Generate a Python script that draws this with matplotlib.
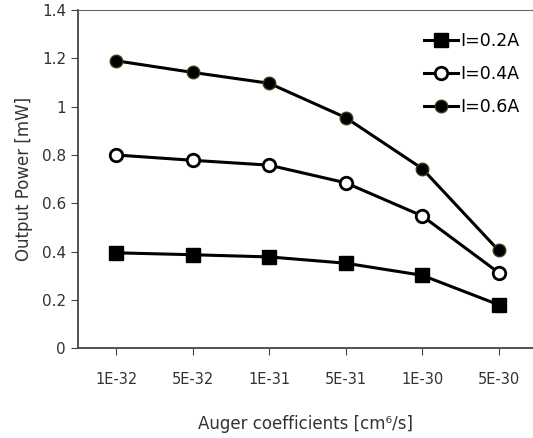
import matplotlib
matplotlib.use("Agg")
import matplotlib.pyplot as plt

# data
categories = ["1E-32", "5E-32", "1E-31", "5E-31", "1E-30", "5E-30"]
power_02 = [0.395, 0.387, 0.378, 0.352, 0.302, 0.180]
power_04 = [0.800, 0.778, 0.758, 0.685, 0.548, 0.313]
power_06 = [1.190, 1.142, 1.097, 0.955, 0.744, 0.405]
y_ticks = [0, 0.2, 0.4, 0.6, 0.8, 1, 1.2, 1.4]
y_tick_labels = ["0", "0.2", "0.4", "0.6", "0.8", "1", "1.2", "1.4"]

plt.rcParams["font.family"] = ["DejaVu Sans"]

fig = plt.figure(figsize=(5.33, 4.38), dpi=100)
ax = fig.add_axes([0.146, 0.205, 0.854, 0.772])

x = range(len(categories))
ax.plot(x, power_02, color="black", lw=2.2, marker="s", ms=10,
        mfc="black", mec="black", label="I=0.2A")
ax.plot(x, power_04, color="black", lw=2.2, marker="o", ms=9,
        mfc="white", mec="black", mew=2, label="I=0.4A")
ax.plot(x, power_06, color="black", lw=2.2, marker="o", ms=9,
        mfc="black", mec="#3a3a10", mew=1, label="I=0.6A")

ax.set_xlim(-0.5, 5.45)
ax.set_ylim(0, 1.4)
ax.set_xticks(list(x))
ax.set_xticklabels(categories, fontsize=10.5, color="#333333")
ax.set_yticks(y_ticks)
ax.set_yticklabels(y_tick_labels, fontsize=11, color="#333333")
ax.tick_params(axis="both", direction="out", length=5, color="#444444")
ax.tick_params(axis="x", pad=12)

ax.spines["right"].set_visible(False)
ax.spines["top"].set_color("#666666")
ax.spines["left"].set_color("#444444")
ax.spines["bottom"].set_color("#444444")
ax.spines["left"].set_linewidth(1.3)
ax.spines["bottom"].set_linewidth(1.3)

ax.set_ylabel("Output Power [mW]", fontsize=12, color="#333333", labelpad=6)
ax.set_xlabel("Auger coefficients [cm\u2076/s]", fontsize=12, color="#333333", labelpad=20)

ax.legend(loc="upper right", frameon=False, fontsize=12.5, handlelength=2.0,
          handletextpad=0.1, labelspacing=0.85, borderaxespad=0.0,
          bbox_to_anchor=(0.985, 0.955))

fig.savefig("out.png", dpi=100)
